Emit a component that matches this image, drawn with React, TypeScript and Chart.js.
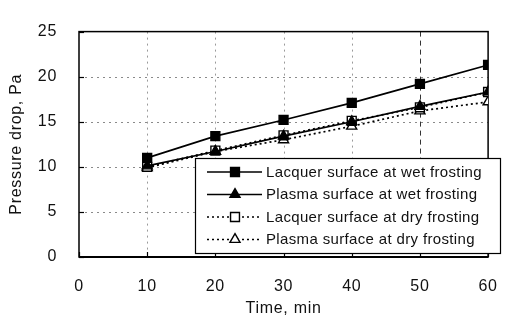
import React, { useEffect, useRef } from "react";
import { Chart, registerables } from "chart.js";

Chart.register(...registerables);

const times = [10, 20, 30, 40, 50, 60];
const lacquerWet = [11.0, 13.4, 15.2, 17.1, 19.2, 21.3];
const plasmaWet = [10.1, 11.7, 13.4, 15.0, 16.7, 18.3];
const lacquerDry = [10.0, 11.8, 13.5, 15.1, 16.6, 18.3];
const plasmaDry = [9.9, 11.7, 13.0, 14.5, 16.2, 17.2];
const seriesLabels = [
  "Lacquer surface at wet frosting",
  "Plasma surface at wet frosting",
  "Lacquer surface at dry frosting",
  "Plasma surface at dry frosting",
];
const xTicks = [0, 10, 20, 30, 40, 50, 60];
const yTicks = [0, 5, 10, 15, 20, 25];

const FONT = "'Liberation Sans', Arial, sans-serif";

const spacingPlugin = {
  id: "letterSpacing",
  beforeDraw(chart: any) {
    chart.ctx.letterSpacing = "0.7px";
  },
};

const gridPlugin = {
  id: "paperGrid",
  beforeDatasetsDraw(chart: any) {
    const { ctx, chartArea: a, scales } = chart;
    const xs = scales.x;
    const ys = scales.y;
    ctx.save();
    ctx.lineWidth = 1;
    yTicks.slice(1, -1).forEach((v) => {
      const py = Math.round(ys.getPixelForValue(v)) + 0.5;
      ctx.strokeStyle = "#8a8a8a";
      ctx.setLineDash([2, 4]);
      ctx.beginPath();
      ctx.moveTo(a.left, py);
      ctx.lineTo(a.right, py);
      ctx.stroke();
    });
    xTicks.slice(1, -1).forEach((v) => {
      const px = Math.round(xs.getPixelForValue(v)) + 0.5;
      if (v === 50) {
        ctx.strokeStyle = "#333";
        ctx.setLineDash([5, 4]);
      } else {
        ctx.strokeStyle = "#9a9a9a";
        ctx.setLineDash([2, 4]);
      }
      ctx.beginPath();
      ctx.moveTo(px, a.top);
      ctx.lineTo(px, a.bottom);
      ctx.stroke();
    });
    ctx.setLineDash([]);
    ctx.strokeStyle = "#000";
    ctx.lineWidth = 1.2;
    yTicks.forEach((v) => {
      const py = Math.round(ys.getPixelForValue(v)) + 0.5;
      ctx.beginPath();
      ctx.moveTo(a.left, py);
      ctx.lineTo(a.left + 5, py);
      ctx.stroke();
    });
    xTicks.forEach((v) => {
      const px = Math.round(xs.getPixelForValue(v)) + 0.5;
      ctx.beginPath();
      ctx.moveTo(px, a.bottom);
      ctx.lineTo(px, a.bottom - 5);
      ctx.stroke();
    });
    ctx.lineWidth = 1.5;
    ctx.strokeRect(a.left, a.top, a.right - a.left, a.bottom - a.top);
    ctx.lineWidth = 2;
    ctx.beginPath();
    ctx.moveTo(a.left, a.bottom);
    ctx.lineTo(a.right, a.bottom);
    ctx.stroke();
    ctx.restore();
  },
};

const legendPlugin = {
  id: "boxLegend",
  afterDatasetsDraw(chart: any) {
    const { ctx } = chart;
    const x0 = 195, y0 = 158, w = 305, h = 95;
    ctx.save();
    ctx.fillStyle = "#fff";
    ctx.fillRect(x0, y0, w, h);
    ctx.strokeStyle = "#000";
    ctx.lineWidth = 1.2;
    ctx.strokeRect(x0 + 0.5, y0 + 0.5, w, h);
    chart.data.datasets.forEach((ds: any, i: number) => {
      const cy = 172 + i * 22.5;
      ctx.strokeStyle = "#000";
      ctx.lineWidth = ds.borderWidth;
      ctx.setLineDash(ds.borderDash || []);
      ctx.beginPath();
      ctx.moveTo(207, cy);
      ctx.lineTo(262, cy);
      ctx.stroke();
      ctx.setLineDash([]);
      ctx.fillStyle = ds.pointBackgroundColor;
      ctx.strokeStyle = "#000";
      ctx.lineWidth = ds.pointBorderWidth;
      ctx.beginPath();
      const r = ds.pointRadius;
      if (ds.pointStyle === "rect") {
        const s = Math.SQRT1_2 * r;
        ctx.rect(235 - s, cy - s, 2 * s, 2 * s);
      } else {
        for (let k = 0; k < 3; k++) {
          const ang = -Math.PI / 2 + (k * 2 * Math.PI) / 3;
          const px = 235 + Math.cos(ang) * r;
          const py = cy + Math.sin(ang) * r;
          if (k === 0) ctx.moveTo(px, py);
          else ctx.lineTo(px, py);
        }
        ctx.closePath();
      }
      ctx.fill();
      ctx.stroke();
      ctx.fillStyle = "#111";
      ctx.font = `15px ${FONT}`;
      ctx.letterSpacing = "0.35px";
      ctx.textBaseline = "middle";
      ctx.textAlign = "left";
      ctx.fillText(ds.label, 266, cy + 0.5);
    });
    ctx.restore();
  },
};

function makeDataset(label: string, values: number[], style: string, filled: boolean, dotted: boolean) {
  return {
    label,
    data: times.map((t, i) => ({ x: t, y: values[i] })),
    borderColor: "#000",
    borderWidth: 1.7,
    borderDash: dotted ? [2, 3] : [],
    pointStyle: style,
    pointRadius: style === "rect" ? 6.3 : 5.8,
    pointBorderWidth: 1.4,
    pointBackgroundColor: filled ? "#000" : "#fff",
    pointBorderColor: "#000",
    fill: false,
    tension: 0,
  };
}

export default function App() {
  const ref = useRef<HTMLCanvasElement>(null);
  useEffect(() => {
    if (!ref.current) return;
    const chart = new Chart(ref.current, {
      type: "line",
      data: {
        datasets: [
          makeDataset(seriesLabels[0], lacquerWet, "rect", true, false),
          makeDataset(seriesLabels[1], plasmaWet, "triangle", true, false),
          makeDataset(seriesLabels[2], lacquerDry, "rect", false, true),
          makeDataset(seriesLabels[3], plasmaDry, "triangle", false, true),
        ],
      },
      options: {
        animation: false,
        responsive: false,
        devicePixelRatio: 1,
        layout: { padding: { left: 0, top: 15, right: 11, bottom: 0 } },
        plugins: { legend: { display: false }, tooltip: { enabled: false } },
        scales: {
          x: {
            type: "linear",
            min: 0,
            max: 60,
            afterBuildTicks: (s: any) => {
              s.ticks = xTicks.map((v) => ({ value: v }));
            },
            afterFit: (s: any) => {
              s.height = 62;
            },
            ticks: { padding: 20, color: "#111", font: { family: FONT, size: 16 }, maxRotation: 0 },
            grid: { display: false, drawTicks: false },
            border: { display: false },
            title: {
              display: true,
              text: "Time, min",
              color: "#111",
              font: { family: FONT, size: 16 },
              padding: { top: 0, bottom: 1 },
            },
          },
          y: {
            min: 0,
            max: 25,
            afterBuildTicks: (s: any) => {
              s.ticks = yTicks.map((v) => ({ value: v }));
            },
            afterFit: (s: any) => {
              s.width = 79;
            },
            ticks: { padding: 22, color: "#111", font: { family: FONT, size: 16 } },
            grid: { display: false, drawTicks: false },
            border: { display: false },
            title: {
              display: true,
              text: "Pressure drop, Pa",
              color: "#111",
              font: { family: FONT, size: 16 },
              padding: { top: 7, bottom: 0 },
            },
          },
        },
      },
      plugins: [spacingPlugin, gridPlugin, legendPlugin],
    } as any);
    return () => chart.destroy();
  }, []);
  return (
    <div style={{ position: "fixed", left: 0, top: 0, width: 517, height: 319, background: "#fff" }}>
      <canvas ref={ref} width={517} height={319} style={{ width: 517, height: 319 }} />
    </div>
  );
}
